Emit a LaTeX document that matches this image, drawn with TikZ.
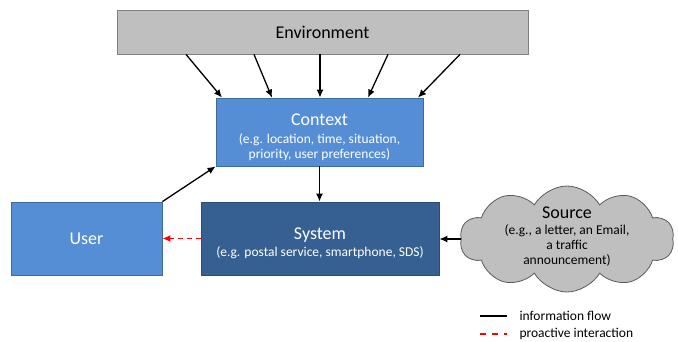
\documentclass[tikz,border=0pt]{standalone}
\usepackage{fontspec}
\setmainfont{Carlito}
\usetikzlibrary{arrows.meta,shapes.symbols}

\definecolor{envgray}{HTML}{BFBFBF}
\definecolor{envline}{HTML}{808080}
\definecolor{ctxblue}{HTML}{558ED5}
\definecolor{ctxline}{HTML}{3E6A9E}
\definecolor{sysblue}{HTML}{376092}
\definecolor{sysline}{HTML}{2B4C74}
\definecolor{cloudline}{HTML}{595959}

\newcommand{\titlefont}{\fontsize{18}{20}\selectfont}
\newcommand{\subfont}{\fontsize{13.5}{15}\selectfont}

\begin{document}
\begin{tikzpicture}[x=1pt, y=-1pt,
  box/.style={draw, line width=0.8pt, inner sep=0pt, align=center, text=white, font=\subfont},
  flow/.style={-{Latex[length=8pt,width=7pt]}, line width=1.3pt},
  proactive/.style={-{Latex[length=8pt,width=7pt]}, line width=1.3pt, red, dash pattern=on 5pt off 4pt}]

\useasboundingbox (0,0) rectangle (678,341);

% Boxes
\node[box, fill=envgray, draw=envline, text=black, minimum width=411pt, minimum height=44pt]
  (env) at (322.5,32) {\titlefont Environment};
\node[box, fill=ctxblue, draw=ctxline, minimum width=207pt, minimum height=68pt]
  (ctx) at (319.5,132) {\rule{0pt}{23pt}{\titlefont Context}\\[3pt](e.g. location, time, situation,\\priority, user preferences)};
\node[box, fill=ctxblue, draw=ctxline, minimum width=151pt, minimum height=73pt]
  (user) at (86.5,238.5) {\titlefont User};
\node[box, fill=sysblue, draw=sysline, minimum width=238pt, minimum height=73pt]
  (sys) at (320,238.5) {\rule{0pt}{22pt}{\titlefont System}\\[2pt](e.g. postal service, smartphone, SDS)};

% Source cloud
\node[cloud, cloud puffs=10, cloud puff arc=120, draw=cloudline, fill=envgray, line width=0.8pt,
  minimum width=214pt, minimum height=106pt, inner sep=0pt] (src) at (567,239) {};
\node[align=center, font=\subfont] (srctext) at (567,237) {{\titlefont Source}\\[1pt](e.g., a letter, an Email,\\a traffic\\announcement)};

% Environment influences on the context
\foreach \s/\e [count=\i] in {186/222, 254/272, 320/320, 388/368, 460/418} {
  \coordinate (es\i) at (\s,0);
  \coordinate (ce\i) at (\e,0);
  \draw[flow] (env.south -| es\i) -- (ctx.north -| ce\i);
}

% Information flow
\draw[flow] (ctx.south) -- (sys.north -| ctx.south);
\draw[flow] (user.north east) -- (ctx.south west);
\draw[flow] (src.west) -- (sys.east |- src.west);

% Proactive interaction
\draw[proactive] (sys.west) -- (user.east);

% Legend
\node[anchor=west, font=\subfont] (leg1) at (516,316) {information flow};
\node[anchor=west, font=\subfont] (leg2) at (516,334) {proactive interaction};
\draw[line width=1.3pt] ([xshift=-36pt]leg1.west) -- ([xshift=-9pt]leg1.west);
\draw[line width=1.3pt, red, dash pattern=on 6pt off 6pt] ([xshift=-36pt]leg2.west) -- ([xshift=-9pt]leg2.west);

\end{tikzpicture}
\end{document}
